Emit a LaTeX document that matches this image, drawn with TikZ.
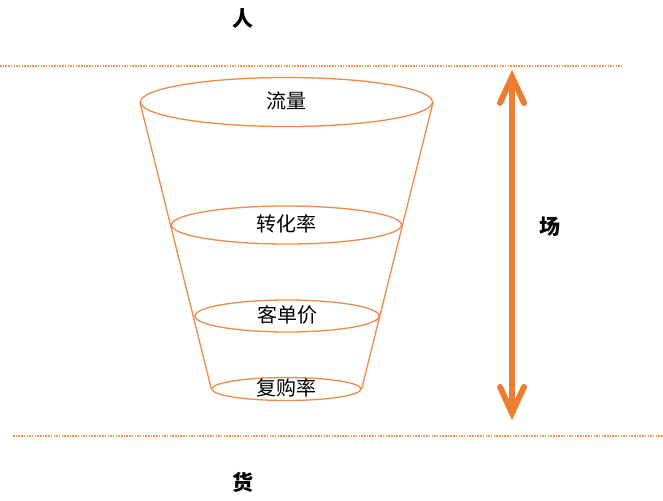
\documentclass[tikz,border=0pt]{standalone}
\usepackage{fontspec}
\setmainfont{Noto Sans CJK SC}
\newfontfamily\cjk{Noto Sans CJK SC}
\usetikzlibrary{shapes.geometric}
\definecolor{funnel}{HTML}{EE8A4A}
\definecolor{arr}{HTML}{ED7D31}
\definecolor{dots}{HTML}{F2944F}
\tikzset{
  layer/.style={ellipse, draw=funnel, line width=1.3pt, inner sep=0pt},
  lbl/.style={font=\cjk\fontsize{20}{22}\selectfont, text=black},
  big/.style={font=\cjk\bfseries\fontsize{21}{23}\selectfont, text=black},
  side/.style={draw=funnel, line width=1.3pt},
  sep/.style={draw=dots, line width=1.3pt, dash pattern=on 1.5pt off 1.2pt},
  shaft/.style={draw=arr, line width=6pt},
  barb/.style={draw=arr, line width=6pt, line cap=round, miter limit=10}
}
\begin{document}
\begin{tikzpicture}[x=1pt,y=-1pt]
\useasboundingbox (0,0) rectangle (663,500);
% separators
\coordinate (t1) at (0,66);
\coordinate (t2) at (622,66);
\coordinate (b1) at (13,436);
\coordinate (b2) at (663,436);
\draw[sep] (t1) -- (t2);
\draw[sep] (b1) -- (b2);
% labels
\node[big] (ren) at (243,19) {人};
\node[big] (huo) at (243,482) {货};
\node[big] (chang) at (550,227) {场};
% funnel layers
\node[layer, minimum width=292, minimum height=49] (l1) at (286.5,102) {};
\node[layer, minimum width=230, minimum height=38] (l2) at (286.5,225) {};
\node[layer, minimum width=184, minimum height=32] (l3) at (287,316) {};
\node[layer, minimum width=149, minimum height=23] (l4) at (286.5,389) {};
\node[lbl] at ([yshift=1pt]l1.center) {流量};
\node[lbl] at ([yshift=1pt]l2.center) {转化率};
\node[lbl] at ([yshift=1pt]l3.center) {客单价};
\node[lbl] at ([yshift=1pt]l4.center) {复购率};
% sides
\draw[side] (l1.west) -- (l4.west);
\draw[side] (l1.east) -- (l4.east);
% double arrow
\coordinate (atop) at (512,77);
\coordinate (abot) at (512,413);
\draw[shaft] (512,84) -- (512,406);
\draw[barb] (500,103) -- (atop) -- (524,103);
\draw[barb] (500,387) -- (abot) -- (524,387);
\end{tikzpicture}
\end{document}
